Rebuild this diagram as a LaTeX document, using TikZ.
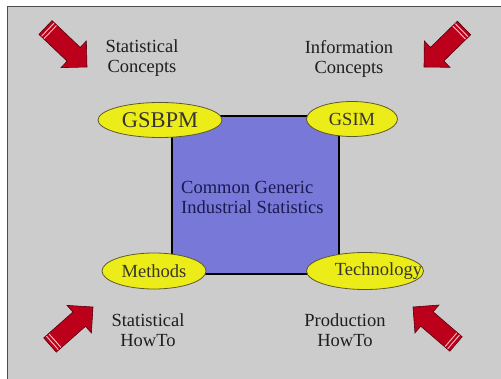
\documentclass[tikz,border=0pt]{standalone}
\usepackage{fontspec}
\setmainfont{Liberation Serif}
\usetikzlibrary{shapes.geometric,calc}
\definecolor{bgc}{RGB}{204,204,204}
\definecolor{sqc}{RGB}{120,120,216}
\definecolor{yelc}{RGB}{236,236,24}
\definecolor{arrc}{RGB}{188,0,28}
\definecolor{txtc}{RGB}{30,30,30}
\definecolor{navyc}{RGB}{26,26,80}
\newcommand{\redarrow}[2]{%
  \coordinate (arB) at ($(#2)!18.4pt!(#1)$);
  \filldraw[fill=arrc, draw=arrc!45!black, line width=0.6pt, line join=miter]
    ($(#1)!9.5pt!90:(#2)$) -- ($(arB)!9.5pt!90:(#2)$) -- ($(arB)!18.4pt!90:(#2)$) -- (#2)
    -- ($(arB)!18.4pt!-90:(#2)$) -- ($(arB)!9.5pt!-90:(#2)$) -- ($(#1)!9.5pt!-90:(#2)$) -- cycle;
  \coordinate (arS) at ($(#1)!3.2pt!(#2)$);
  \draw[red!25!white, line width=0.9pt] ($(arS)!9pt!90:(#2)$) -- ($(arS)!9pt!-90:(#2)$);
  \coordinate (arS) at ($(#1)!6.6pt!(#2)$);
  \draw[red!25!white, line width=0.9pt] ($(arS)!9pt!90:(#2)$) -- ($(arS)!9pt!-90:(#2)$);
}
\begin{document}
\begin{tikzpicture}[x=1pt,y=-1pt,
  oval/.style={ellipse, draw=olive!55!black, fill=yelc, line width=0.8pt, inner sep=0pt,
    text=yellow!10!black, font=\fontsize{18.5}{20}\selectfont},
  lbl/.style={align=center, font=\fontsize{18.5}{20.5}\selectfont, text=txtc, inner sep=0pt}]
\useasboundingbox (0,0) rectangle (501,379);
\fill[white] (0,0) rectangle (501,379);
\fill[bgc] (7,7) rectangle (501,379);
\draw[black!70, line width=1pt] (7,379) -- (7,7) -- (501,7);

% central square
\draw[fill=sqc, draw=black, line width=2pt] (172,116) rectangle (339,274);
\node[anchor=west, align=left, inner sep=0pt, text=navyc, font=\fontsize{18.5}{20}\selectfont] (core) at (181,197)
  {Common Generic\\Industrial Statistics};

% ellipses
\node[oval, minimum width=124pt, minimum height=35pt, font=\fontsize{22.5}{24}\selectfont] (gsbpm) at (160,120) {GSBPM};
\node[oval, minimum width=91pt, minimum height=35pt] (gsim) at (352,119) {GSIM};
\node[oval, minimum width=104pt, minimum height=36pt] (methods) at (154,271) {Methods};
\node[oval, minimum width=117pt, minimum height=37pt] (tech) at (365,271) {};
\node[inner sep=0pt, text=yellow!10!black, font=\fontsize{18.5}{20}\selectfont] (techtext) at (378.5,271) {Technology};

% labels
\node[lbl] (statc) at (142,58) {Statistical\\Concepts};
\node[lbl] (infoc) at (349,59) {Information\\Concepts};
\node[lbl] (stath) at (148,330) {Statistical\\HowTo};
\node[lbl] (prodh) at (345,330) {Production\\HowTo};

% arrows
\coordinate (tlT) at (45.5,27.5); \coordinate (tlP) at (87,67);
\coordinate (trT) at (464,28);    \coordinate (trP) at (424,67);
\coordinate (blT) at (50,345);    \coordinate (blP) at (93,307);
\coordinate (brT) at (456,344);   \coordinate (brP) at (413,307);
\redarrow{tlT}{tlP}
\redarrow{trT}{trP}
\redarrow{blT}{blP}
\redarrow{brT}{brP}
\end{tikzpicture}
\end{document}
